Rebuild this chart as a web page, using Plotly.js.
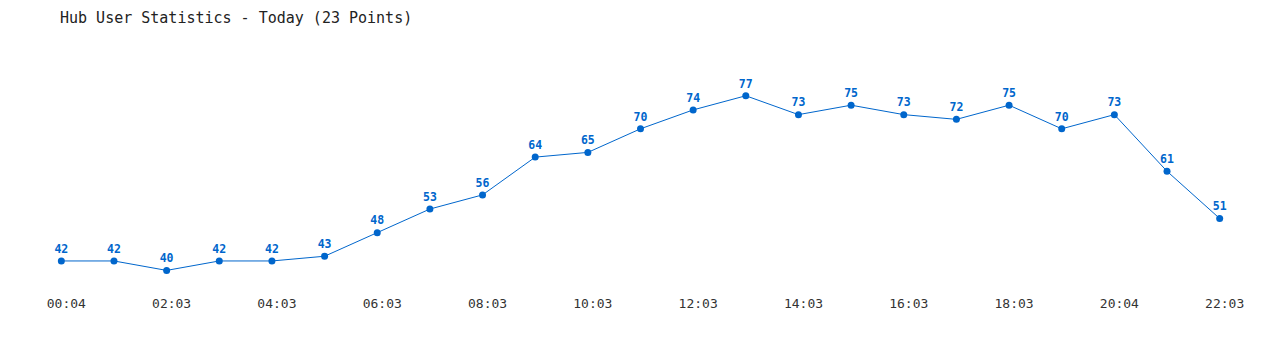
<!DOCTYPE html>
<html>
<head>
<meta charset="utf-8">
<script src="https://cdn.plot.ly/plotly-3.0.1.min.js"></script>
<style>html,body{margin:0;padding:0;background:#fff;}#chart{width:1280px;height:350px;}</style>
</head>
<body>
<div id="chart"></div>
<script>
var pointIndex = [0,1,2,3,4,5,6,7,8,9,10,11,12,13,14,15,16,17,18,19,20,21,22];
var users = [42,42,40,42,42,43,48,53,56,64,65,70,74,77,73,75,73,72,75,70,73,61,51];
var tickPositions = [0,2,4,6,8,10,12,14,16,18,20,22];
var tickLabels = ["00:04","02:03","04:03","06:03","08:03","10:03","12:03","14:03","16:03","18:03","20:04","22:03"];
var titleText = "Hub User Statistics - Today (23 Points)";

var trace = {
  x: pointIndex,
  y: users,
  type: 'scatter',
  mode: 'lines+markers+text',
  text: users.map(String),
  textposition: 'top center',
  textfont: {family: 'DejaVu Sans Mono, monospace', size: 11.5, color: '#0066cc', weight: 'bold'},
  line: {color: '#0066cc', width: 1},
  marker: {color: '#0066cc', size: 7},
  hoverinfo: 'none',
  cliponaxis: false
};

var layout = {
  width: 1280, height: 350,
  margin: {l: 35, r: 34, t: 58, b: 56},
  paper_bgcolor: '#ffffff', plot_bgcolor: '#ffffff',
  showlegend: false,
  title: {
    text: titleText,
    font: {family: 'DejaVu Sans Mono, monospace', size: 15, color: '#222222'},
    xref: 'container', yref: 'container',
    x: 60/1280, xanchor: 'left',
    y: 1 - 18/350, yanchor: 'middle'
  },
  xaxis: {
    range: [-0.5, 22.5],
    tickmode: 'array', tickvals: tickPositions, ticktext: tickLabels,
    showgrid: false, zeroline: false, showline: false, ticks: '',
    ticklabelshift: 5,
    tickfont: {family: 'DejaVu Sans Mono, monospace', size: 13, color: '#333333'}
  },
  yaxis: {
    range: [35, 85],
    showgrid: false, zeroline: false, showline: false, showticklabels: false, ticks: ''
  }
};

Plotly.newPlot('chart', [trace], layout, {staticPlot: true, displayModeBar: false});
</script>
</body>
</html>
